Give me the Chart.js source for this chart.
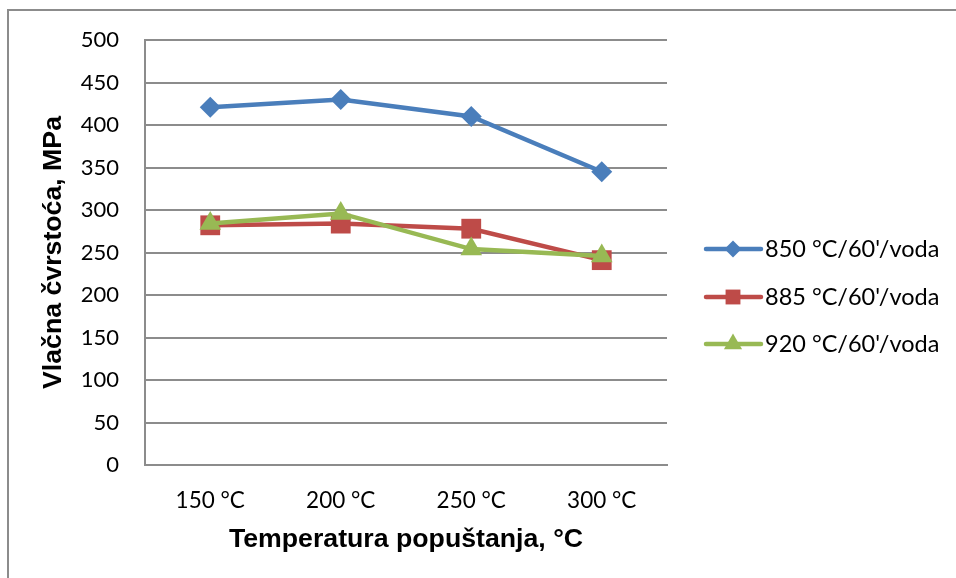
<!DOCTYPE html>
<html>
<head>
<meta charset="utf-8">
<script src="https://cdn.jsdelivr.net/npm/chart.js@4.4.1/dist/chart.umd.min.js"></script>
<style>
  html, body { margin: 0; padding: 0; background: #fff; }
  #wrap { position: relative; width: 956px; height: 578px; }
  canvas { display: block; }
</style>
</head>
<body>
<div id="wrap"><canvas id="c" width="956" height="578"></canvas></div>
<script>
// ---- data ----
const categories = ['150 °C', '200 °C', '250 °C', '300 °C'];
const seriesNames = ["850 °C/60'/voda", "885 °C/60'/voda", "920 °C/60'/voda"];
const s850 = [421, 430, 410, 345];
const s885 = [282, 284, 278, 241];
const s920 = [284, 296, 254, 246];
const yTicks = [0, 50, 100, 150, 200, 250, 300, 350, 400, 450, 500];
const xTitle = 'Temperatura popuštanja, °C';
const yTitle = 'Vlačna čvrstoća, MPa';

const colors = ['#4A7EBB', '#BE4B48', '#98B954'];
const styles = ['rectRot', 'rect', 'triangle'];
const radii = [10.5, 14, 12.5];
const legendRadii = [8.5, 10.5, 10.5];
const seriesData = [s850, s885, s920];

Chart.defaults.font.family = 'Lato';
Chart.defaults.color = '#000';

const GRID = '#8c8c8c';

const frame = {
  id: 'frame',
  beforeDraw(chart) {
    const ctx = chart.ctx;
    ctx.save();
    ctx.strokeStyle = GRID;
    ctx.lineWidth = 2;
    ctx.beginPath();
    ctx.moveTo(956, 10);
    ctx.lineTo(8, 10);
    ctx.lineTo(8, 578);
    ctx.stroke();
    ctx.restore();
  }
};

const legendPlugin = {
  id: 'customLegend',
  afterDraw(chart) {
    const ctx = chart.ctx;
    const ys = [249, 297, 344];
    ctx.save();
    chart.data.datasets.forEach((ds, i) => {
      const y = ys[i];
      ctx.strokeStyle = ds.borderColor;
      ctx.lineWidth = 4.5;
      ctx.lineCap = 'round';
      ctx.beginPath();
      ctx.moveTo(706, y);
      ctx.lineTo(761, y);
      ctx.stroke();
      ctx.fillStyle = ds.borderColor;
      Chart.helpers.drawPoint(ctx, {pointStyle: ds.pointStyle, radius: legendRadii[i], rotation: 0, borderWidth: 0}, 733, y);
      ctx.fillStyle = '#000';
      ctx.font = '23.5px Lato';
      ctx.textBaseline = 'middle';
      ctx.textAlign = 'left';
      ctx.fillText(ds.label, 765, y);
    });
    ctx.restore();
  }
};

new Chart(document.getElementById('c'), {
  type: 'line',
  data: {
    labels: categories,
    datasets: seriesData.map((d, i) => ({
      label: seriesNames[i],
      data: d,
      borderColor: colors[i],
      backgroundColor: colors[i],
      borderWidth: 4.5,
      pointStyle: styles[i],
      pointRadius: radii[i],
      pointBorderWidth: 0,
      pointBackgroundColor: colors[i],
      tension: 0,
      order: 2 - i
    }))
  },
  options: {
    responsive: false,
    animation: false,
    events: [],
    layout: { padding: { left: 0, top: 40, right: 289, bottom: 0 } },
    plugins: { legend: { display: false }, tooltip: { enabled: false } },
    scales: {
      x: {
        offset: true,
        grid: { display: false, drawTicks: false },
        border: { display: true, color: GRID, width: 2 },
        ticks: { padding: 22, font: { size: 22.5, family: 'Lato' }, color: '#000', maxRotation: 0 },
        title: { display: true, text: xTitle, color: '#000',
                 font: { size: 26.7, weight: 'bold', family: 'Liberation Sans' },
                 padding: { top: 0, bottom: 22 } },
        afterFit(scale) { scale.height = 113; }
      },
      y: {
        min: 0, max: 500,
        afterBuildTicks(scale) { scale.ticks = yTicks.map(v => ({ value: v })); },
        grid: { color: GRID, lineWidth: 2, drawTicks: false },
        border: { display: true, color: GRID, width: 2 },
        ticks: { padding: 26, font: { size: 22, family: 'Lato' }, color: '#000' },
        title: { display: true, text: yTitle, color: '#000',
                 font: { size: 26.7, weight: 'bold', family: 'Liberation Sans' },
                 padding: { top: 38, bottom: 0 } },
        afterFit(scale) { scale.width = 145; }
      }
    }
  },
  plugins: [frame, legendPlugin]
});
</script>
</body>
</html>
